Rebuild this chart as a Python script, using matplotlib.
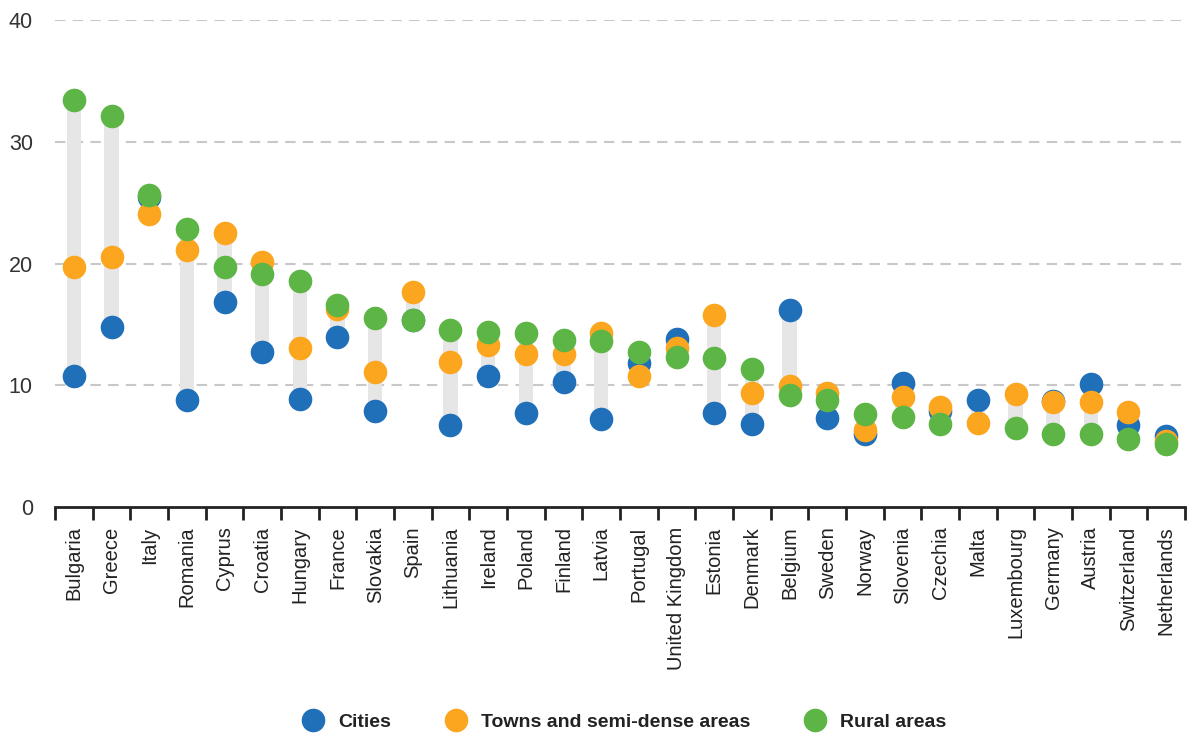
import numpy as np
import matplotlib
matplotlib.use("Agg")
import matplotlib.pyplot as plt
from matplotlib.lines import Line2D

countries = ["Bulgaria", "Greece", "Italy", "Romania", "Cyprus", "Croatia", "Hungary",
             "France", "Slovakia", "Spain", "Lithuania", "Ireland", "Poland", "Finland",
             "Latvia", "Portugal", "United Kingdom", "Estonia", "Denmark", "Belgium",
             "Sweden", "Norway", "Slovenia", "Czechia", "Malta", "Luxembourg", "Germany",
             "Austria", "Switzerland", "Netherlands"]

cities = [10.8, 14.8, 25.5, 8.8, 16.8, 12.7, 8.9, 14.0, 7.9, 15.4, 6.7, 10.8, 7.7, 10.3,
          7.2, 11.8, 13.8, 7.7, 6.8, 16.2, 7.3, 6.0, 10.2, 7.9, 8.8, np.nan, 8.7,
          10.1, 6.7, 5.8]
towns = [19.7, 20.5, 24.1, 21.1, 22.5, 20.1, 13.1, 16.3, 11.1, 17.7, 11.9, 13.3, 12.6, 12.6,
         14.3, 10.8, 13.1, 15.8, 9.4, 9.9, 9.4, 6.3, 9.0, 8.2, 6.9, 9.3, 8.6,
         8.6, 7.8, 5.4]
rural = [33.4, 32.1, 25.6, 22.8, 19.7, 19.1, 18.6, 16.6, 15.5, 15.4, 14.5, 14.4, 14.3, 13.7,
         13.6, 12.7, 12.3, 12.2, 11.3, 9.2, 8.8, 7.6, 7.4, 6.8, np.nan, 6.5, 6.0,
         6.0, 5.6, 5.2]

yticks = [0, 10, 20, 30, 40]

c_blue = "#1f6fb9"
c_orange = "#fba61e"
c_green = "#5db545"

fig = plt.figure(figsize=(11.89, 7.36), dpi=100)
ax = fig.add_axes([55 / 1189, (736 - 507) / 736, (1185 - 55) / 1189, 487 / 736])

n = len(countries)
x = np.arange(n)
vals = np.array([cities, towns, rural], dtype=float)
lo = np.nanmin(vals, axis=0)
hi = np.nanmax(vals, axis=0)

ax.bar(x, hi - lo, bottom=lo, width=0.38, color="#e6e6e6", zorder=2)
ms = 17
ax.plot(x, cities, "o", color=c_blue, ms=ms, mec="none", zorder=3)
ax.plot(x, towns, "o", color=c_orange, ms=ms, mec="none", zorder=4)
ax.plot(x, rural, "o", color=c_green, ms=ms, mec="none", zorder=5)

ax.set_xlim(-0.5, n - 0.5)
ax.set_ylim(0, 40)
ax.set_yticks(yticks)
ax.set_yticklabels([str(v) for v in yticks], fontsize=15.5, color="#333333",
                   family=["Liberation Sans", "DejaVu Sans"])
for v in yticks[1:]:
    ax.axhline(v, color="#c8c8c8", lw=1.5, ls=(0, (5, 3.5)), zorder=1)
ax.tick_params(axis="y", length=0, pad=16)

ax.set_xticks(x)
ax.set_xticklabels(countries, rotation=90, fontsize=14.5, color="#222222",
                   family=["Liberation Sans", "DejaVu Sans"])
ax.tick_params(axis="x", which="major", length=0, pad=14)
ax.set_xticks(np.arange(-0.5, n, 1.0), minor=True)
ax.tick_params(axis="x", which="minor", length=9, width=2, color="#222222", direction="out")

for s in ["top", "right", "left"]:
    ax.spines[s].set_visible(False)
ax.spines["bottom"].set_linewidth(2)
ax.spines["bottom"].set_color("#222222")
ax.spines["bottom"].set_zorder(6)

handles = [Line2D([], [], marker="o", ls="none", color=c, ms=17, mec="none")
           for c in (c_blue, c_orange, c_green)]
fig.legend(handles, ["Cities", "Towns and semi-dense areas", "Rural areas"],
           loc="center", bbox_to_anchor=(620 / 1189, 1 - 722 / 736), ncol=3,
           frameon=False, handletextpad=0.3, columnspacing=2.3,
           prop={"family": ["Liberation Sans", "DejaVu Sans"],
                 "size": 14, "weight": "bold"}, labelcolor="#222222")

fig.savefig("out.png", dpi=100)
